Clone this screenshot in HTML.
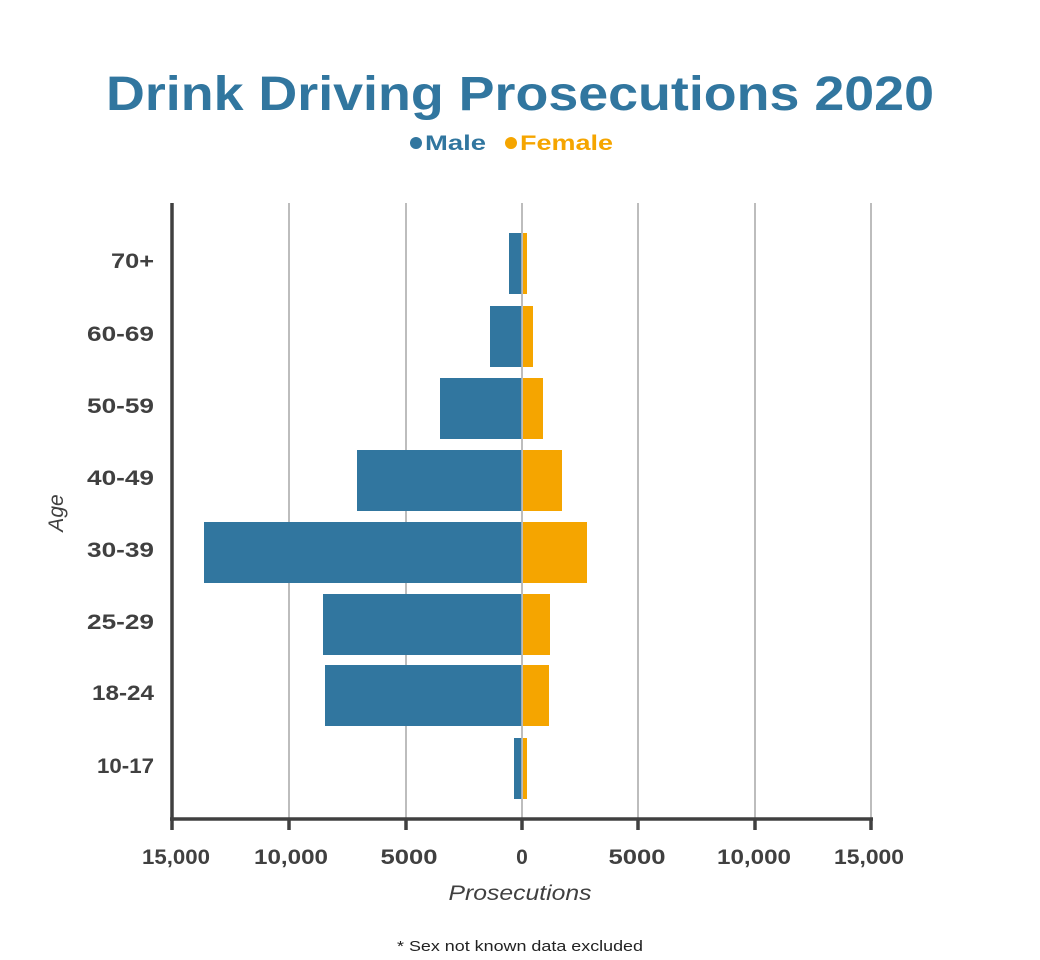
<!DOCTYPE html>
<html><head><style>
html,body{margin:0;padding:0;background:#fff;}
svg{display:block;font-family:"Liberation Sans",sans-serif;}
</style></head><body>
<svg width="1040" height="960" viewBox="0 0 1040 960">
<text x="106" y="110" font-size="48" font-weight="bold" fill="#31769f" textLength="828" lengthAdjust="spacingAndGlyphs">Drink Driving Prosecutions 2020</text>
<circle cx="416" cy="143" r="6" fill="#31769f"/>
<text x="425" y="150" font-size="21" font-weight="bold" fill="#31769f" textLength="61" lengthAdjust="spacingAndGlyphs">Male</text>
<circle cx="511" cy="143" r="6" fill="#f5a500"/>
<text x="520" y="150" font-size="21" font-weight="bold" fill="#f5a500" textLength="93" lengthAdjust="spacingAndGlyphs">Female</text>
<g stroke="#bdbdbd" stroke-width="2">
<line x1="289" y1="203" x2="289" y2="818"/>
<line x1="406" y1="203" x2="406" y2="818"/>
<line x1="522" y1="203" x2="522" y2="818"/>
<line x1="638" y1="203" x2="638" y2="818"/>
<line x1="755" y1="203" x2="755" y2="818"/>
<line x1="871" y1="203" x2="871" y2="818"/>
</g>
<g fill="#31769f">
<rect x="509" y="233" width="13" height="61"/>
<rect x="490" y="306" width="32" height="61"/>
<rect x="440" y="378" width="82" height="61"/>
<rect x="357" y="450" width="165" height="61"/>
<rect x="204" y="522" width="318" height="61"/>
<rect x="323" y="594" width="199" height="61"/>
<rect x="325" y="665" width="197" height="61"/>
<rect x="514" y="738" width="8" height="61"/>
</g>
<g fill="#f5a500">
<rect x="523" y="233" width="4" height="61"/>
<rect x="523" y="306" width="10" height="61"/>
<rect x="523" y="378" width="20" height="61"/>
<rect x="523" y="450" width="39" height="61"/>
<rect x="523" y="522" width="64" height="61"/>
<rect x="523" y="594" width="27" height="61"/>
<rect x="523" y="665" width="26" height="61"/>
<rect x="523" y="738" width="4" height="61"/>
</g>
<line x1="522" y1="233" x2="522" y2="799" stroke="#bdbdbd" stroke-width="1.5"/>
<g stroke="#404040" stroke-width="3.5">
<line x1="172" y1="203" x2="172" y2="821"/>
<line x1="170" y1="819" x2="873" y2="819"/>
<line x1="172" y1="819" x2="172" y2="830"/>
<line x1="289" y1="819" x2="289" y2="830"/>
<line x1="406" y1="819" x2="406" y2="830"/>
<line x1="522" y1="819" x2="522" y2="830"/>
<line x1="638" y1="819" x2="638" y2="830"/>
<line x1="755" y1="819" x2="755" y2="830"/>
<line x1="871" y1="819" x2="871" y2="830"/>
</g>
<g font-size="21" font-weight="bold" fill="#404040" text-anchor="end">
<text x="154" y="268" textLength="43" lengthAdjust="spacingAndGlyphs">70+</text>
<text x="154" y="341" textLength="67" lengthAdjust="spacingAndGlyphs">60-69</text>
<text x="154" y="413" textLength="67" lengthAdjust="spacingAndGlyphs">50-59</text>
<text x="154" y="485" textLength="67" lengthAdjust="spacingAndGlyphs">40-49</text>
<text x="154" y="557" textLength="67" lengthAdjust="spacingAndGlyphs">30-39</text>
<text x="154" y="629" textLength="67" lengthAdjust="spacingAndGlyphs">25-29</text>
<text x="154" y="700" textLength="62" lengthAdjust="spacingAndGlyphs">18-24</text>
<text x="154" y="773" textLength="57" lengthAdjust="spacingAndGlyphs">10-17</text>
</g>
<g font-size="21" font-weight="bold" fill="#404040" text-anchor="middle">
<text x="176" y="864" textLength="68" lengthAdjust="spacingAndGlyphs">15,000</text>
<text x="291" y="864" textLength="74" lengthAdjust="spacingAndGlyphs">10,000</text>
<text x="409" y="864" textLength="57" lengthAdjust="spacingAndGlyphs">5000</text>
<text x="522" y="864">0</text>
<text x="637" y="864" textLength="57" lengthAdjust="spacingAndGlyphs">5000</text>
<text x="754" y="864" textLength="74" lengthAdjust="spacingAndGlyphs">10,000</text>
<text x="869" y="864" textLength="70" lengthAdjust="spacingAndGlyphs">15,000</text>
</g>
<text x="520" y="900" text-anchor="middle" font-size="21" font-style="italic" fill="#404040" textLength="143" lengthAdjust="spacingAndGlyphs">Prosecutions</text>
<text transform="translate(63,513) rotate(-90)" text-anchor="middle" font-size="21" font-style="italic" fill="#404040">Age</text>
<text x="520" y="951" text-anchor="middle" font-size="15" fill="#222" textLength="246" lengthAdjust="spacingAndGlyphs">* Sex not known data excluded</text>
</svg>
</body></html>
